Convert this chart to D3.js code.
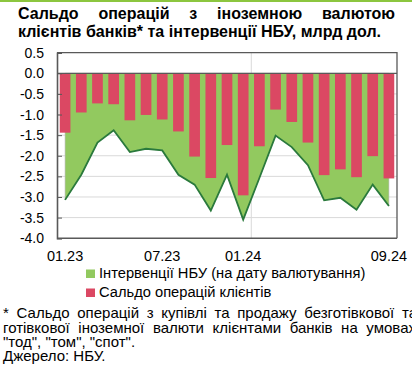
<!DOCTYPE html>
<html>
<head>
<meta charset="utf-8">
<script src="https://cdn.jsdelivr.net/npm/d3@7"></script>
<style>
  html, body { margin: 0; padding: 0; background: #fff; }
  svg { display: block; }
  text { font-family: "Liberation Sans", Arial, sans-serif; fill: #000; }
</style>
</head>
<body>
<svg id="chart" width="412" height="376"></svg>
<script>
// місяці 01.2023 - 09.2024
const months = ["01.23", "02.23", "03.23", "04.23", "05.23", "06.23", "07.23", "08.23", "09.23", "10.23",
  "11.23", "12.23", "01.24", "02.24", "03.24", "04.24", "05.24", "06.24", "07.24", "08.24", "09.24"];

// сальдо операцій клієнтів, млрд дол.
const clients = [-1.44, -0.95, -0.73, -0.75, -1.14, -1.01, -1.12, -1.41, -2.02, -2.54,
  -1.74, -2.96, -1.77, -0.88, -1.18, -1.68, -2.47, -2.33, -2.52, -2.01, -2.55];

// інтервенції НБУ (на дату валютування), млрд дол.
const interventions = [-3.07, -2.46, -1.68, -1.38, -1.91, -1.83, -1.87, -2.46, -2.70, -3.33,
  -2.46, -3.55, -2.54, -1.51, -1.79, -2.23, -3.08, -3.02, -3.31, -2.70, -3.22];

const yTicks = [0.5, 0, -0.5, -1, -1.5, -2, -2.5, -3, -3.5, -4];
const xLabelIdx = [0, 6, 11, 20];
const xLabels = ["01.23", "07.23", "01.24", "09.24"];

const titleLines = [
  "Сальдо операцій з іноземною валютою",
  "клієнтів банків* та інтервенції НБУ, млрд дол."
];
const legendItems = [
  { label: "Інтервенції НБУ (на дату валютування)", color: "#92c95f" },
  { label: "Сальдо операцій клієнтів", color: "#db4863" }
];
const noteLines = [
  "* Сальдо операцій з купівлі та продажу безготівкової та",
  "готівкової іноземної валюти клієнтами банків на умовах",
  "\"тод\", \"том\", \"спот\".",
  "Джерело: НБУ."
];

(function () {
  const svg = d3.select("#chart");

  const plot = { left: 57, right: 397, top: 52.7, bottom: 238.2 };
  const green = "#92c95f";
  const red = "#db4863";
  const lineGreen = "#2a7a3c";
  const axisGray = "#595959";

  // зелена смужка зверху
  svg.append("rect").attr("x", 0).attr("y", 0).attr("width", 412).attr("height", 2)
    .attr("fill", "#8cc63f");

  // текст по ширині: слова розкладаємо між x0 і x1
  function justify(str, x0, x1, y, size, weight) {
    const words = str.split(" ");
    const g = svg.append("g");
    const nodes = words.map(w => g.append("text")
      .attr("y", y)
      .attr("font-size", size)
      .attr("font-weight", weight || "normal")
      .text(w));
    const widths = nodes.map(n => n.node().getComputedTextLength());
    const total = d3.sum(widths);
    const gap = words.length > 1 ? (x1 - x0 - total) / (words.length - 1) : 0;
    let cx = x0;
    nodes.forEach((n, i) => {
      n.attr("x", cx);
      cx += widths[i] + gap;
    });
  }

  // заголовок
  justify(titleLines[0], 18, 395, 18.5, 16, "bold");
  justify(titleLines[1], 18, 381, 36.5, 16, "bold");

  const x = d3.scaleBand().domain(months).range([plot.left, plot.right]).padding(0);
  const y = d3.scaleLinear().domain([-4, 0.5]).range([plot.bottom, plot.top]);
  const cx = d => x(d) + x.bandwidth() / 2;

  // сітка
  svg.append("g").selectAll("line")
    .data(yTicks.filter(t => t < 0 && t > -4))
    .enter().append("line")
    .attr("x1", plot.left).attr("x2", plot.right)
    .attr("y1", d => y(d)).attr("y2", d => y(d))
    .attr("stroke", "#d9d9d9").attr("stroke-width", 1);

  svg.append("line")
    .attr("x1", x(months[12])).attr("x2", x(months[12]))
    .attr("y1", plot.top).attr("y2", plot.bottom)
    .attr("stroke", "#d9d9d9").attr("stroke-width", 1);

  // інтервенції - площа
  const area = d3.area()
    .x((d, i) => cx(months[i]))
    .y0(y(0))
    .y1(d => y(d));

  svg.append("path")
    .datum(interventions)
    .attr("d", area)
    .attr("fill", green)
    .attr("stroke", "#b5b5b5")
    .attr("stroke-width", 0.6);

  const line = d3.line()
    .x((d, i) => cx(months[i]))
    .y(d => y(d));

  svg.append("path")
    .datum(interventions)
    .attr("d", line)
    .attr("fill", "none")
    .attr("stroke", lineGreen)
    .attr("stroke-width", 1.8)
    .attr("stroke-linejoin", "miter");

  // сальдо клієнтів - стовпчики
  const barW = x.bandwidth() * 0.66;
  svg.append("g").selectAll("rect")
    .data(clients)
    .enter().append("rect")
    .attr("x", (d, i) => cx(months[i]) - barW / 2)
    .attr("y", y(0))
    .attr("width", barW)
    .attr("height", d => y(d) - y(0))
    .attr("fill", red);

  // рамка і осі
  svg.append("path")
    .attr("d", `M${plot.left},${plot.top}H${plot.right}V${plot.bottom}`)
    .attr("fill", "none").attr("stroke", axisGray).attr("stroke-width", 1.3);
  svg.append("line")
    .attr("x1", plot.left).attr("x2", plot.right)
    .attr("y1", y(0)).attr("y2", y(0))
    .attr("stroke", axisGray).attr("stroke-width", 1.3);

  const yAxis = d3.axisLeft(y).tickValues(yTicks).tickSize(-5).tickPadding(13)
    .tickFormat(d3.format(".1f"));
  const yG = svg.append("g").attr("transform", `translate(${plot.left},0)`).call(yAxis);
  yG.select(".domain").attr("stroke", axisGray).attr("stroke-width", 1.6);
  yG.selectAll(".tick line").attr("stroke", axisGray);
  yG.selectAll(".tick text").attr("font-size", 14).attr("fill", "#000")
    .attr("font-family", "Liberation Sans, Arial, sans-serif")
    .text(d => d3.format(".1f")(d).replace("−", "-"));

  svg.append("line")
    .attr("x1", plot.left).attr("x2", plot.right)
    .attr("y1", plot.bottom).attr("y2", plot.bottom)
    .attr("stroke", axisGray).attr("stroke-width", 1.6);

  // підписи місяців
  svg.append("g").selectAll("text")
    .data(xLabelIdx)
    .enter().append("text")
    .attr("x", d => cx(months[d]))
    .attr("y", 261)
    .attr("text-anchor", "middle")
    .attr("font-size", 14.5)
    .text((d, i) => xLabels[i]);

  // легенда
  const leg = svg.append("g");
  legendItems.forEach((it, i) => {
    const ly = 278 + i * 19;
    leg.append("rect").attr("x", 86).attr("y", ly - 8.5).attr("width", 9).attr("height", 8.5)
      .attr("fill", it.color);
    leg.append("text").attr("x", 99).attr("y", ly).attr("font-size", 14.7).text(it.label);
  });

  // примітка
  justify(noteLines[0], 3, 417, 318, 15);
  justify(noteLines[1], 3, 416, 332.5, 15);
  svg.append("text").attr("x", 3).attr("y", 347).attr("font-size", 15).text(noteLines[2]);
  svg.append("text").attr("x", 3).attr("y", 361).attr("font-size", 15).text(noteLines[3]);
})();
</script>
</body>
</html>
